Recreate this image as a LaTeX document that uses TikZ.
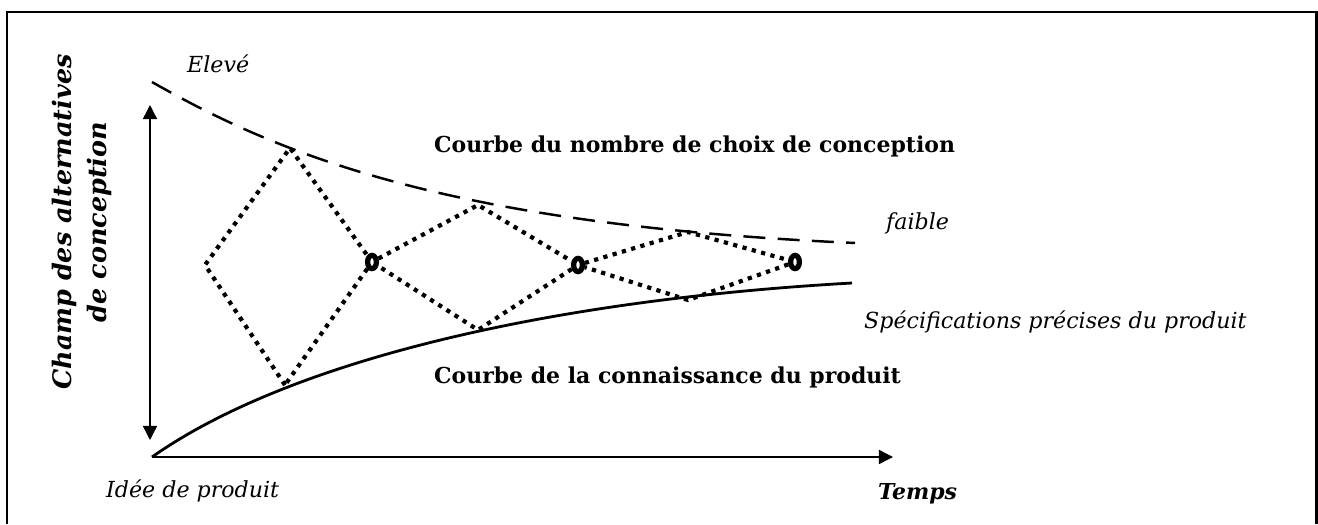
\documentclass[tikz,border=0pt]{standalone}
\usepackage{fontspec}
\setmainfont{DejaVu Serif}
\usetikzlibrary{arrows.meta,shapes.geometric}
\tikzset{
	lbl/.style={anchor=base west, font=\fontsize{12.5}{15}\selectfont\bfseries},
	note/.style={anchor=base west, font=\fontsize{12.6}{15}\selectfont\itshape},
	dots/.style={line width=2.4pt, dash pattern=on 2.4pt off 3.1pt},
	turn/.style={draw, ellipse, line width=3pt, inner sep=0pt, minimum width=5pt, minimum height=7.5pt}
}

\begin{document}
\begin{tikzpicture}[x=0.02cm, y=-0.02cm, >={Triangle[length=8pt,width=8pt]}]
	\useasboundingbox (0,0) rectangle (1318,524);
	\draw[line width=1.7pt] (7,524) -- (7,12) -- (1316,12) -- (1316,524);
	% axes
	\coordinate (O) at (152,457);
	\coordinate (T) at (893,457);
	\coordinate (Vtop) at (150,105);
	\coordinate (Vbot) at (150,440);
	\path[->, line width=0.8pt] (O) edge[] (T);
	\path[<->, line width=0.8pt] (Vbot) edge[] (Vtop);
	% curves
	\coordinate (D0) at (152,82);
	\coordinate (D1) at (855,243);
	\coordinate (S1) at (852,283);
	\draw[line width=1.4pt, dash pattern=on 12.5pt off 7pt] (D0) .. controls (280,155) and (450,225) .. (D1);
	\draw[line width=1.6pt] (O) .. controls (290,360) and (550,300) .. (S1);
	% diamonds
	\coordinate (A1) at (205,265);
	\coordinate (A2) at (290,148);
	\coordinate (A3) at (285,385);
	\node[turn] (P1) at (372,262) {};
	\coordinate (B2) at (478,205);
	\coordinate (B3) at (478,330);
	\node[turn] (P2) at (578,265) {};
	\coordinate (C2) at (688,232);
	\coordinate (C3) at (688,300);
	\node[turn] (P3) at (795,262) {};
	\draw[dots] (A3) -- (A1) -- (A2) -- (P1) -- (A3);
	\draw[dots] (P1) -- (B2) -- (P2) -- (B3) -- (P1);
	\draw[dots] (P2) -- (C2) -- (P3) -- (C3) -- (P2);
	% labels
	\node[note] (high) at (181,72) {Elevé};
	\node[note] (low) at (880,229) {faible};
	\node[lbl] (choix) at (428,152) {Courbe du nombre de choix de conception};
	\node[lbl] (conn) at (428,383) {Courbe de la connaissance du produit};
	\node[note] (spec) at (858,328) {Spécifications précises du produit};
	\node[note] (idee) at (100,497) {Idée de produit};
	\node[note, font=\fontsize{12.5}{15}\selectfont\bfseries\itshape] (temps) at (872,499) {Temps};
	\node[rotate=90, align=center, font=\fontsize{14.5}{20}\selectfont\bfseries\itshape] (champ) at (82,222) {Champ des alternatives\\de conception};
	%\draw [brown] (current bounding box.south west) rectangle (current bounding box.north east);
\end{tikzpicture}
\end{document}
